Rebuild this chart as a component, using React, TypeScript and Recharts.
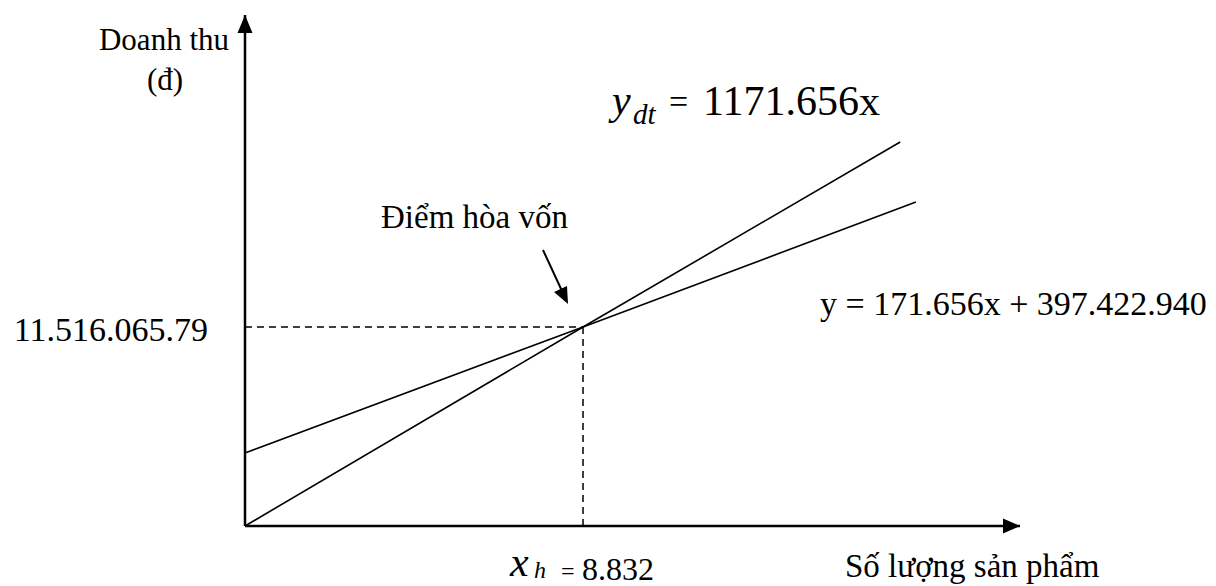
import React from "react";
import { LineChart, Line, XAxis, YAxis, ReferenceLine, ReferenceDot } from "recharts";

// quantity (x) and money (y)
const revenueX = [0, 8.832, 17.12];
const revenueY = [0, 11516065.79, 22222000];
const costX = [0, 8.832, 17.53];
const costY = [4224000, 11516065.79, 18750000];

const breakEvenX = 8.832;
const breakEvenY = 11516065.79;

const xMax = 20.25;
const yMax = 29571000;

const revenueData = revenueX.map((x, i) => ({ x, y: revenueY[i] }));
const costData = costX.map((x, i) => ({ x, y: costY[i] }));

const serif = "'Liberation Serif', 'Times New Roman', serif";

function ArrowUp(props: any) {
  const { cx, cy } = props;
  return <polygon points={`${cx},${cy} ${cx - 7.5},${cy + 18} ${cx + 7.5},${cy + 18}`} fill="#000" />;
}

function ArrowRight(props: any) {
  const { cx, cy } = props;
  return <polygon points={`${cx},${cy} ${cx - 17},${cy - 7.5} ${cx - 17},${cy + 7.5}`} fill="#000" />;
}

function Labels() {
  return (
    <svg
      width={1216}
      height={586}
      style={{ position: "absolute", left: 0, top: 0, pointerEvents: "none" }}
      fontFamily={serif}
    >
      <text x={164} y={50} fontSize={31} textAnchor="middle">Doanh thu</text>
      <text x={165} y={90} fontSize={31} textAnchor="middle">(đ)</text>

      <text x={612} y={114} fontSize={42} fontStyle="italic">y</text>
      <text x={633} y={124} fontSize={29} fontStyle="italic">dt</text>
      <text x={669} y={113} fontSize={34}>=</text>
      <text x={703} y={115} fontSize={42}>1171.656x</text>

      <text x={568} y={228} fontSize={33} textAnchor="end">Điểm hòa vốn</text>
      <line x1={543} y1={250} x2={562} y2={291} stroke="#000" strokeWidth={2} />
      <polygon points="568,304 554,292 567,286" fill="#000" />

      <text x={820} y={315} fontSize={34}>y = 171.656x + 397.422.940</text>
      <text x={208} y={341} fontSize={34} textAnchor="end">11.516.065.79</text>

      <text x={510} y={576} fontSize={42} fontStyle="italic">x</text>
      <text x={534} y={578} fontSize={24} fontStyle="italic">h</text>
      <text x={561} y={579} fontSize={24}>=</text>
      <text x={582} y={580} fontSize={32}>8.832</text>

      <text x={845} y={577} fontSize={33}>Số lượng sản phẩm</text>
    </svg>
  );
}

export default function App() {
  return (
    <div style={{ position: "fixed", left: 0, top: 0, width: 1216, height: 586, background: "#fff" }}>
      <LineChart width={1216} height={586} margin={{ top: 15, right: 196, bottom: 60, left: 245 }}>
        <XAxis type="number" dataKey="x" domain={[0, xMax]} height={0} tick={false} tickLine={false} axisLine={false} />
        <YAxis type="number" domain={[0, yMax]} width={0} tick={false} tickLine={false} axisLine={false} />
        {/* axes with arrows */}
        <ReferenceLine
          segment={[{ x: 0, y: 0 }, { x: 0, y: yMax }]}
          stroke="#000"
          strokeWidth={2.5}
          ifOverflow="visible"
        />
        <ReferenceLine
          segment={[{ x: 0, y: 0 }, { x: xMax, y: 0 }]}
          stroke="#000"
          strokeWidth={2.5}
          ifOverflow="visible"
        />
        <ReferenceLine
          segment={[{ x: 0, y: breakEvenY }, { x: breakEvenX, y: breakEvenY }]}
          stroke="#000"
          strokeWidth={1.5}
          strokeDasharray="7 5"
        />
        <ReferenceLine
          segment={[{ x: breakEvenX, y: 0 }, { x: breakEvenX, y: breakEvenY }]}
          stroke="#000"
          strokeWidth={1.5}
          strokeDasharray="7 5"
        />
        <Line
          data={revenueData}
          dataKey="y"
          type="linear"
          dot={false}
          stroke="#000"
          strokeWidth={1.6}
          isAnimationActive={false}
        />
        <Line
          data={costData}
          dataKey="y"
          type="linear"
          dot={false}
          stroke="#000"
          strokeWidth={1.6}
          isAnimationActive={false}
        />
        <ReferenceDot x={0} y={yMax} r={0} shape={ArrowUp} ifOverflow="visible" />
        <ReferenceDot x={xMax} y={0} r={0} shape={ArrowRight} ifOverflow="visible" />
      </LineChart>
      <Labels />
    </div>
  );
}
